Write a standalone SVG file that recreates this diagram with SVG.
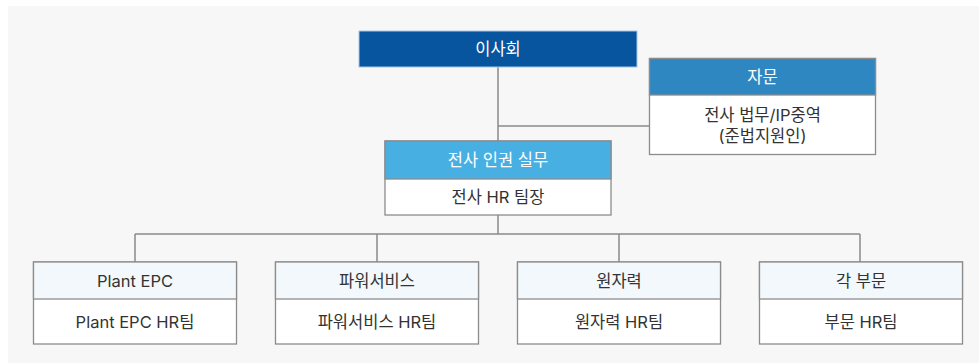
<svg xmlns="http://www.w3.org/2000/svg" width="979" height="363" viewBox="0 0 979 363">
<style>
text{font-family:Inter,"Noto Sans CJK KR","Noto Sans",sans-serif;font-size:16.5px;fill:#333;text-anchor:middle;dominant-baseline:central}
.w{fill:#fff}
.box{fill:#fff;stroke:#8c8c8c;stroke-width:1.3}
.hd{fill:#f2f8fb;stroke:#8c8c8c;stroke-width:1.3}
.ln{stroke:#8a8a8a;stroke-width:1.5;fill:none}
</style>
<rect x="0" y="0" width="979" height="363" fill="#fff"/>
<rect x="8" y="6" width="971" height="357" fill="#f7f7f7"/>
<g id="connectors">
<path class="ln" d="M498 67V141M498 126H650M498 215V234M135 234H860M135 234V262M377 234V262M619 234V262M860 234V262"/>
</g>
<g id="board">
<rect x="359" y="31" width="278" height="36" fill="#07559f" stroke="#a7c6e6" stroke-width="1"/>
<text x="498" y="49" class="w">이사회</text>
</g>
<g id="advisory">
<rect class="box" x="649.5" y="58.5" width="226" height="96"/>
<rect x="649.5" y="58.5" width="226" height="36.5" fill="#2f87c2" stroke="#8c8c8c" stroke-width="1.3"/>
<text x="762.5" y="77" class="w">자문</text>
<text x="762.5" y="114.5">전사 법무/IP중역</text>
<text x="762.5" y="135.5">(준법지원인)</text>
</g>
<g id="hr-practice">
<rect class="box" x="385" y="141" width="226" height="74"/>
<rect x="385" y="141" width="226" height="38" fill="#48afe3" stroke="#8c8c8c" stroke-width="1.3"/>
<text x="498" y="160" class="w">전사 인권 실무</text>
<text x="498" y="197">전사 HR 팀장</text>
</g>
<g id="plant-epc">
<rect class="box" x="33.5" y="262" width="203" height="82"/>
<rect class="hd" x="33.5" y="262" width="203" height="37"/>
<text x="135" y="280.5">Plant EPC</text>
<text x="135" y="321.5">Plant EPC HR팀</text>
</g>
<g id="power-service">
<rect class="box" x="275.5" y="262" width="203" height="82"/>
<rect class="hd" x="275.5" y="262" width="203" height="37"/>
<text x="377" y="280.5">파워서비스</text>
<text x="377" y="321.5">파워서비스 HR팀</text>
</g>
<g id="nuclear">
<rect class="box" x="517.5" y="262" width="203" height="82"/>
<rect class="hd" x="517.5" y="262" width="203" height="37"/>
<text x="619" y="280.5">원자력</text>
<text x="619" y="321.5">원자력 HR팀</text>
</g>
<g id="each-division">
<rect class="box" x="759.5" y="262" width="203" height="82"/>
<rect class="hd" x="759.5" y="262" width="203" height="37"/>
<text x="861" y="280.5">각 부문</text>
<text x="861" y="321.5">부문 HR팀</text>
</g>
</svg>
